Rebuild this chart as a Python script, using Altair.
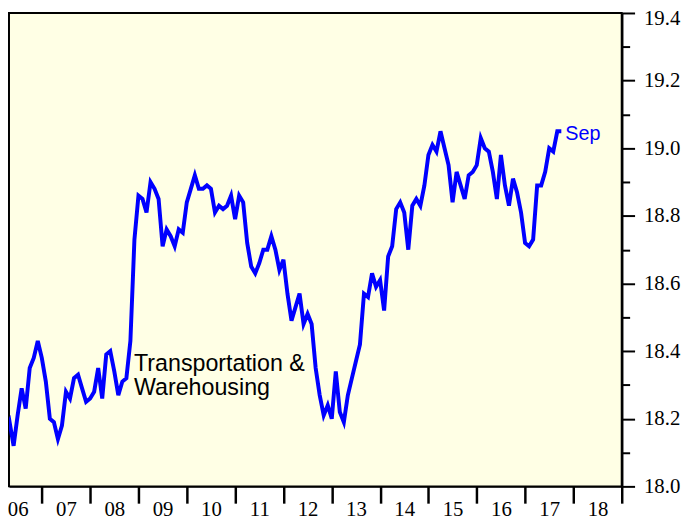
import altair as alt
import pandas as pd

# Monthly values, Mar 2006 .. Sep 2017
v2006 = [18.16, 18.19, 18.12, 18.21, 18.29, 18.23, 18.35, 18.38, 18.43, 18.38]
v2007 = [18.31, 18.20, 18.19, 18.14, 18.18, 18.28, 18.26, 18.32, 18.33, 18.29, 18.25, 18.26]
v2008 = [18.28, 18.35, 18.26, 18.39, 18.40, 18.34, 18.27, 18.31, 18.32, 18.43, 18.73, 18.86]
v2009 = [18.85, 18.81, 18.90, 18.88, 18.85, 18.71, 18.76, 18.74, 18.71, 18.76, 18.75, 18.84]
v2010 = [18.88, 18.92, 18.88, 18.88, 18.89, 18.88, 18.81, 18.83, 18.82, 18.83, 18.86, 18.79]
v2011 = [18.86, 18.84, 18.72, 18.65, 18.63, 18.66, 18.70, 18.70, 18.74, 18.70, 18.64, 18.67]
v2012 = [18.57, 18.49, 18.53, 18.57, 18.48, 18.51, 18.48, 18.35, 18.27, 18.21, 18.24, 18.20]
v2013 = [18.34, 18.22, 18.19, 18.27, 18.32, 18.37, 18.42, 18.57, 18.56, 18.63, 18.59, 18.61]
v2014 = [18.52, 18.68, 18.71, 18.82, 18.84, 18.81, 18.70, 18.83, 18.85, 18.83, 18.89, 18.98]
v2015 = [19.01, 18.99, 19.05, 19.00, 18.95, 18.84, 18.93, 18.89, 18.85, 18.92, 18.93, 18.95]
v2016 = [19.03, 19.00, 18.99, 18.93, 18.85, 18.98, 18.89, 18.83, 18.91, 18.87, 18.81, 18.72]
v2017 = [18.71, 18.73, 18.89, 18.89, 18.93, 19.00, 18.99, 19.05, 19.05]

values = v2006 + v2007 + v2008 + v2009 + v2010 + v2011 + v2012 + v2013 + v2014 + v2015 + v2016 + v2017
months = pd.period_range("2006-03", periods=len(values), freq="M")
# plotted at month end
t = [p.year + p.month / 12 for p in months]
df = pd.DataFrame({"t": t, "v": values})

series_label = "Transportation &\nWarehousing"
end_label = "Sep"

x_ticks = list(range(2007, 2020))
y_ticks = [round(18.0 + 0.1 * i, 1) for i in range(15)]

SERIF = "Liberation Serif, Times New Roman, Times, serif"

xscale = alt.Scale(domain=[2006.321, 2019.0], nice=False, zero=False)
yscale = alt.Scale(domain=[18.0, 19.4], nice=False, zero=False)

xaxis = alt.Axis(
    values=x_ticks, orient="bottom", title=None, grid=False,
    labelExpr="substring(toString(datum.value - 1), 2, 4)",
    labelOffset=-24.45, labelFont=SERIF, labelFontSize=21,
    labelColor="black", labelPadding=-5, labelBaseline="top", labelAlign="center",
    labelFlush=False, labelOverlap=False,
    tickSize=17, tickWidth=2.5, tickColor="black",
    domainColor="black", domainWidth=2,
)
yaxis = alt.Axis(
    values=y_ticks, orient="right", title=None, grid=False,
    labelExpr="round(datum.value*10) % 2 == 1 ? '' : format(datum.value, '.1f')",
    labelFont=SERIF, labelFontSize=21, labelColor="black",
    labelPadding=9, labelAlign="left", labelBaseline="middle",
    labelOffset={"condition": {"test": "datum.value >= 19.35", "value": 6}, "value": 0},
    labelFlush=False, labelOverlap=False,
    tickSize={"condition": {"test": "round(datum.value*10) % 2 == 1", "value": 8}, "value": 13},
    tickWidth=2, tickColor="black",
    domainColor="black", domainWidth=2.5,
)

x_enc = alt.X("t:Q", scale=xscale, axis=xaxis)
y_enc = alt.Y("v:Q", scale=yscale, axis=yaxis)

line = alt.Chart(df).mark_line(color="#0000FF", strokeWidth=4, clip=True).encode(x=x_enc, y=y_enc)

ann_df = pd.DataFrame({"t": [2008.908], "v": [18.34], "label": [series_label]})
ann = alt.Chart(ann_df).mark_text(
    align="left", baseline="alphabetic", font="Liberation Sans", fontSize=23.5,
    lineBreak="\n", lineHeight=24, color="black"
).encode(x=x_enc, y=y_enc, text="label:N")

end_df = df.tail(1).assign(label=end_label)
end = alt.Chart(end_df).mark_text(
    align="left", baseline="middle", dx=4, dy=3, font="Liberation Sans", fontSize=20, color="#0000FF"
).encode(x=x_enc, y=y_enc, text="label:N")

chart = alt.layer(line, ann, end).properties(
    width=620, height=479,
    padding={"left": 1, "top": 2, "right": 62, "bottom": 32},
    autosize=alt.AutoSizeParams(type="none"),
    background="white",
).configure_view(fill="#FFFFE5", stroke="black", strokeWidth=2)

chart.save("out.html", embed_options={"renderer": "svg", "actions": False})
